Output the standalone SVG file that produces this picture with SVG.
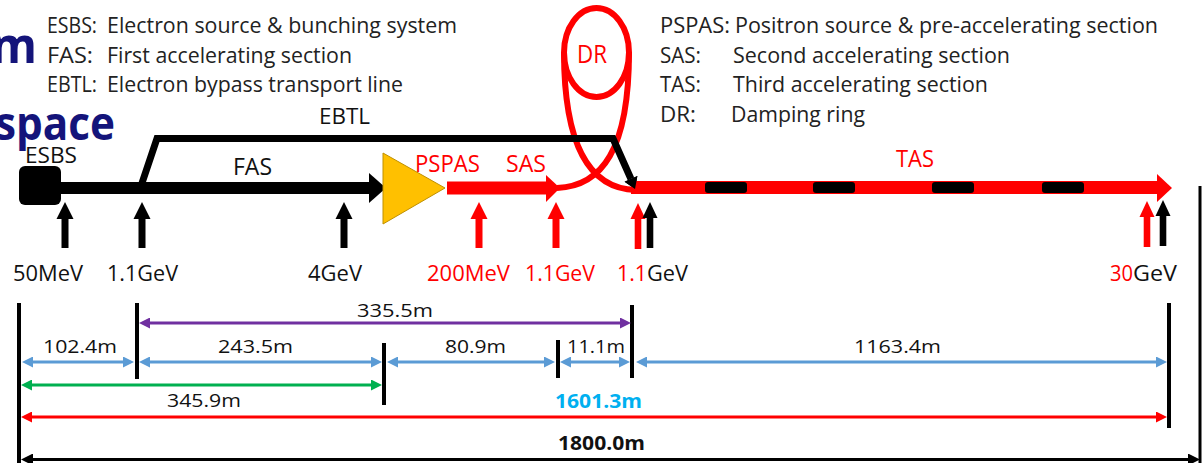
<svg xmlns="http://www.w3.org/2000/svg" width="1203" height="463" viewBox="0 0 1203 463">
<style>
text{font-family:"Open Sans","Noto Sans","Liberation Sans",sans-serif;}
.lg{font-size:21px;fill:#222;}
.lbl{font-size:21px;fill:#111;}
.num{font-size:19px;fill:#111;}
.bold{font-weight:bold;}
.red{fill:#ff0000;}
.blk{fill:#111;}
.title{font-size:50px;font-weight:bold;fill:#14147a;}
.dim{fill:none;stroke-width:3;}
.bar{stroke:#000;stroke-width:4;}
</style>
<defs>
<path id="up" d="M-3.5,46 V17 H-8.5 L0,0 L8.5,17 H3.5 V46 Z"/>
<path id="upn" d="M-3.3,46 V16 H-7.5 L0,0 L7.5,16 H3.3 V46 Z"/>
<marker id="mb" markerUnits="userSpaceOnUse" markerWidth="11" markerHeight="11" refX="7" refY="5.5" orient="auto-start-reverse"><path d="M0,0 L11,5.5 L0,11 Z" fill="#5b9bd5"/></marker>
<marker id="mp" markerUnits="userSpaceOnUse" markerWidth="11" markerHeight="11" refX="7" refY="5.5" orient="auto-start-reverse"><path d="M0,0 L11,5.5 L0,11 Z" fill="#7030a0"/></marker>
<marker id="mg" markerUnits="userSpaceOnUse" markerWidth="11" markerHeight="11" refX="7" refY="5.5" orient="auto-start-reverse"><path d="M0,0 L11,5.5 L0,11 Z" fill="#00b050"/></marker>
<marker id="mr" markerUnits="userSpaceOnUse" markerWidth="11" markerHeight="11" refX="7" refY="5.5" orient="auto-start-reverse"><path d="M0,0 L11,5.5 L0,11 Z" fill="#ff0000"/></marker>
<marker id="mk" markerUnits="userSpaceOnUse" markerWidth="12" markerHeight="12" refX="8" refY="6" orient="auto-start-reverse"><path d="M0,0 L12,6 L0,12 Z" fill="#000"/></marker>
</defs>

<!-- cropped title fragments -->
<g id="title-fragments">
<text class="title" x="37" y="63" text-anchor="end" textLength="46" lengthAdjust="spacingAndGlyphs">m</text>
<text class="title" x="115" y="140" text-anchor="end" textLength="120" lengthAdjust="spacingAndGlyphs" style="font-size:47px">space</text>
</g>

<!-- legends -->
<g id="legend-left">
<text class="lg" x="47" y="33" textLength="50" lengthAdjust="spacingAndGlyphs">ESBS:</text>
<text class="lg" x="107" y="33" textLength="350" lengthAdjust="spacingAndGlyphs">Electron source &amp; bunching system</text>
<text class="lg" x="47" y="63" textLength="46" lengthAdjust="spacingAndGlyphs">FAS:</text>
<text class="lg" x="107" y="63" textLength="245" lengthAdjust="spacingAndGlyphs">First accelerating section</text>
<text class="lg" x="47" y="92" textLength="50" lengthAdjust="spacingAndGlyphs">EBTL:</text>
<text class="lg" x="107" y="92" textLength="296" lengthAdjust="spacingAndGlyphs">Electron bypass transport line</text>
</g>
<g id="legend-right">
<text class="lg" x="660" y="33" textLength="70" lengthAdjust="spacingAndGlyphs">PSPAS:</text>
<text class="lg" x="735" y="33" textLength="423" lengthAdjust="spacingAndGlyphs">Positron source &amp; pre-accelerating section</text>
<text class="lg" x="660" y="62.5" textLength="41" lengthAdjust="spacingAndGlyphs">SAS:</text>
<text class="lg" x="733" y="62.5" textLength="277" lengthAdjust="spacingAndGlyphs">Second accelerating section</text>
<text class="lg" x="660" y="92" textLength="41" lengthAdjust="spacingAndGlyphs">TAS:</text>
<text class="lg" x="733" y="92" textLength="255" lengthAdjust="spacingAndGlyphs">Third accelerating section</text>
<text class="lg" x="660" y="121.5" textLength="36" lengthAdjust="spacingAndGlyphs">DR:</text>
<text class="lg" x="731" y="121.5" textLength="134" lengthAdjust="spacingAndGlyphs">Damping ring</text>
</g>

<!-- DR ring -->
<g id="dr">
<ellipse cx="596.5" cy="52.5" rx="32.5" ry="44.5" fill="none" stroke="#ff0000" stroke-width="6"/>
<path d="M629,52 C629,150 602,186 557,188" fill="none" stroke="#ff0000" stroke-width="6"/>
<path d="M564,52 C564,150 592,189 636,190" fill="none" stroke="#ff0000" stroke-width="6"/>
<text x="577" y="63" class="red" style="font-size:25px" textLength="30" lengthAdjust="spacingAndGlyphs">DR</text>
</g>

<!-- beamline connectors -->
<g id="connectors">
<!-- FAS black line -->
<rect x="58" y="182" width="314" height="12" fill="#000"/>
<polygon points="369,173 386,188 369,203" fill="#000"/>
<!-- EBTL bypass -->
<polyline points="140,189 157,138.5 613,138.5 631,179" fill="none" stroke="#000" stroke-width="7" stroke-linejoin="miter"/>
<polygon points="635,189 637.4,176 624.6,181.7" fill="#000"/>
<!-- PSPAS/SAS red line -->
<rect x="447" y="181.5" width="102" height="13" fill="#ff0000"/>
<polygon points="546,175 560,188 546,202" fill="#ff0000"/>
<!-- TAS red line -->
<rect x="631" y="181" width="528" height="13" fill="#ff0000"/>
<polygon points="1157,174 1172,188 1157,202" fill="#ff0000"/>
<g fill="#000">
<rect x="705" y="182" width="42" height="11" rx="3"/>
<rect x="813" y="182" width="42" height="11" rx="3"/>
<rect x="932" y="182" width="42" height="11" rx="3"/>
<rect x="1042" y="182" width="42" height="11" rx="3"/>
</g>
<polygon points="635,189 637.4,176 624.6,181.7" fill="#000"/>
</g>

<!-- ESBS -->
<g id="esbs">
<rect x="19" y="166" width="42" height="39" rx="6" fill="#000"/>
<text class="lbl" x="25" y="163" style="font-size:22px" textLength="52" lengthAdjust="spacingAndGlyphs">ESBS</text>
</g>

<!-- PSPAS -->
<g id="pspas">
<polygon points="383,153 445,188 383,224" fill="#ffc000" stroke="#bf9000" stroke-width="1"/>
<text class="red" x="415" y="172" style="font-size:23px" textLength="65" lengthAdjust="spacingAndGlyphs">PSPAS</text>
</g>

<g id="section-labels">
<text class="lbl" x="233" y="175" style="font-size:23px" textLength="39" lengthAdjust="spacingAndGlyphs">FAS</text>
<text class="lbl" x="319" y="124" style="font-size:22px" textLength="51" lengthAdjust="spacingAndGlyphs">EBTL</text>
<text class="red" x="506" y="172" style="font-size:23px" textLength="40" lengthAdjust="spacingAndGlyphs">SAS</text>
<text class="red" x="896" y="167" style="font-size:23px" textLength="38" lengthAdjust="spacingAndGlyphs">TAS</text>
</g>

<!-- energy markers -->
<g id="energy">
<use href="#up" x="65" y="202" fill="#000"/>
<use href="#up" x="142" y="202" fill="#000"/>
<use href="#up" x="344" y="202" fill="#000"/>
<use href="#up" x="479" y="202" fill="#ff0000"/>
<use href="#up" x="556" y="202" fill="#ff0000"/>
<use href="#upn" x="638" y="203" fill="#ff0000"/>
<use href="#upn" x="650" y="202" fill="#000"/>
<use href="#upn" x="1147" y="201" fill="#ff0000"/>
<use href="#upn" x="1163" y="200" fill="#000"/>
<text class="lbl" x="13" y="281" textLength="70" lengthAdjust="spacingAndGlyphs">50MeV</text>
<text class="lbl" x="107" y="281" textLength="71" lengthAdjust="spacingAndGlyphs">1.1GeV</text>
<text class="lbl" x="308" y="281" textLength="54" lengthAdjust="spacingAndGlyphs">4GeV</text>
<text class="lbl red" x="427" y="281" textLength="83" lengthAdjust="spacingAndGlyphs">200MeV</text>
<text class="lbl red" x="525" y="281" textLength="70" lengthAdjust="spacingAndGlyphs">1.1GeV</text>
<text class="lbl red" x="617" y="281" textLength="30" lengthAdjust="spacingAndGlyphs">1.1</text>
<text class="lbl" x="647" y="281" textLength="41" lengthAdjust="spacingAndGlyphs">GeV</text>
<text class="lbl red" x="1110" y="281" textLength="23" lengthAdjust="spacingAndGlyphs">30</text>
<text class="lbl" x="1133" y="281" textLength="44" lengthAdjust="spacingAndGlyphs">GeV</text>
</g>

<!-- dimensions -->
<g id="dimensions">
<line class="bar" x1="19" y1="303" x2="19" y2="463"/>
<line class="bar" x1="137" y1="303" x2="137" y2="379"/>
<line class="bar" x1="384" y1="343" x2="384" y2="405"/>
<line class="bar" x1="558" y1="340" x2="558" y2="378"/>
<line class="bar" x1="632" y1="305" x2="632" y2="378"/>
<line class="bar" x1="1169" y1="303" x2="1169" y2="428"/>
<line x1="1200" y1="186" x2="1200" y2="463" stroke="#000" stroke-width="3"/>

<line class="dim" stroke="#7030a0" x1="143" y1="323" x2="627" y2="323" marker-start="url(#mp)" marker-end="url(#mp)"/>
<line class="dim" stroke="#5b9bd5" x1="26" y1="362" x2="130" y2="362" marker-start="url(#mb)" marker-end="url(#mb)"/>
<line class="dim" stroke="#5b9bd5" x1="143" y1="362" x2="378" y2="362" marker-start="url(#mb)" marker-end="url(#mb)"/>
<line class="dim" stroke="#5b9bd5" x1="391" y1="362" x2="551" y2="362" marker-start="url(#mb)" marker-end="url(#mb)"/>
<line class="dim" stroke="#5b9bd5" x1="564" y1="362" x2="626" y2="362" marker-start="url(#mb)" marker-end="url(#mb)"/>
<line class="dim" stroke="#5b9bd5" x1="640" y1="362" x2="1163" y2="362" marker-start="url(#mb)" marker-end="url(#mb)"/>
<line class="dim" stroke="#00b050" x1="25" y1="385" x2="378" y2="385" marker-start="url(#mg)" marker-end="url(#mg)"/>
<line class="dim" stroke="#ff0000" x1="25" y1="417" x2="1163" y2="417" marker-start="url(#mr)" marker-end="url(#mr)"/>
<line class="dim" stroke="#000" stroke-width="4" x1="25" y1="459.5" x2="1196" y2="459.5" marker-start="url(#mk)" marker-end="url(#mk)"/>

<text class="num" x="357" y="317" textLength="76" lengthAdjust="spacingAndGlyphs">335.5m</text>
<text class="num" x="43" y="353" textLength="74" lengthAdjust="spacingAndGlyphs">102.4m</text>
<text class="num" x="218" y="353" textLength="75" lengthAdjust="spacingAndGlyphs">243.5m</text>
<text class="num" x="445" y="353" textLength="61" lengthAdjust="spacingAndGlyphs">80.9m</text>
<text class="num" x="567" y="353" textLength="58" lengthAdjust="spacingAndGlyphs">11.1m</text>
<text class="num" x="854" y="353" textLength="87" lengthAdjust="spacingAndGlyphs">1163.4m</text>
<text class="num" x="167" y="407" textLength="74" lengthAdjust="spacingAndGlyphs">345.9m</text>
<text class="num bold" x="555" y="408" style="fill:#00b0f0" textLength="87" lengthAdjust="spacingAndGlyphs">1601.3m</text>
<text class="num bold" x="558" y="450" textLength="87" lengthAdjust="spacingAndGlyphs">1800.0m</text>
</g>
</svg>
